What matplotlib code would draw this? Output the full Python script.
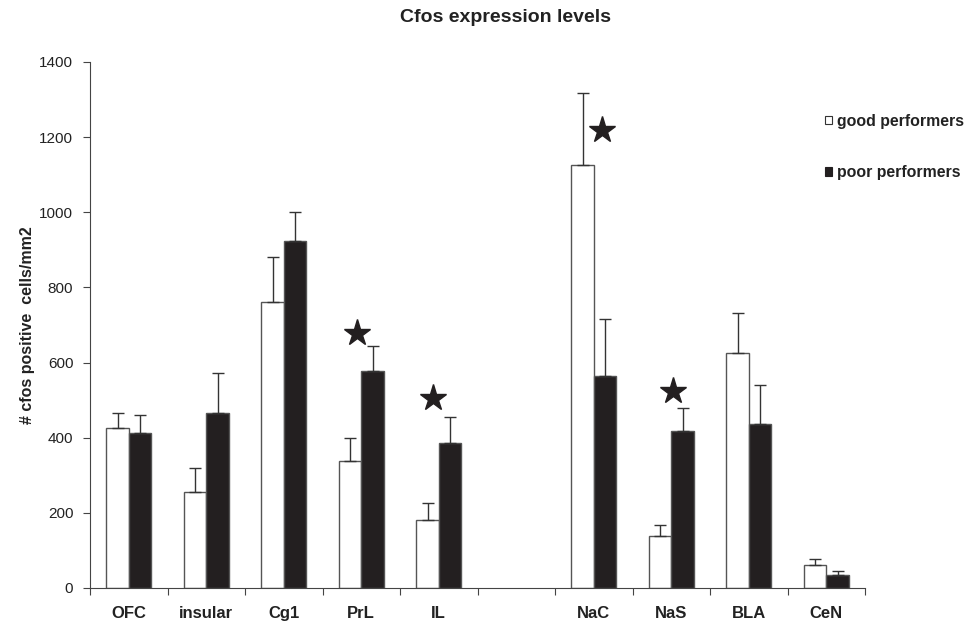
import numpy as np
import matplotlib.pyplot as plt
from matplotlib.patches import Patch

plt.rcParams['font.family'] = ['Liberation Sans', 'DejaVu Sans']

regions = ["OFC", "insular", "Cg1", "PrL", "IL", "", "NaC", "NaS", "BLA", "CeN"]
good = [426, 255, 761, 339, 180, np.nan, 1126, 139, 625, 61]
good_err = [40, 65, 120, 61, 45, np.nan, 192, 29, 107, 15]
poor = [413, 466, 924, 578, 387, np.nan, 564, 419, 437, 35]
poor_err = [47, 106, 76, 66, 67, np.nan, 152, 61, 103, 11]

# significance stars: region, height, x shift
star_regions = ["PrL", "IL", "NaC", "NaS"]
star_heights = [679, 506, 1219, 525]
star_shift = [-0.05, -0.08, 0.1, 0.02]

fig = plt.figure(figsize=(9.66, 6.23), dpi=100)
ax = fig.add_axes([0.0932, 0.0562, 0.8023, 0.8443])

x = np.arange(len(regions))
w = 0.29
ok = ~np.isnan(np.array(good))

ax.bar(x[ok] - w/2, np.array(good)[ok], w, color='white', edgecolor='#555555', linewidth=1, zorder=2)
ax.bar(x[ok] + w/2, np.array(poor)[ok], w, color='#231f20', edgecolor='#555555', linewidth=1, zorder=2)

ax.errorbar(x[ok] - w/2, np.array(good)[ok], yerr=[np.zeros(ok.sum()), np.array(good_err)[ok]],
            fmt='none', ecolor='#333333', elinewidth=1, capsize=4, capthick=1, zorder=3)
ax.errorbar(x[ok] + w/2, np.array(poor)[ok], yerr=[np.zeros(ok.sum()), np.array(poor_err)[ok]],
            fmt='none', ecolor='#333333', elinewidth=1, capsize=4, capthick=1, zorder=3)

for r, h, s in zip(star_regions, star_heights, star_shift):
    ax.plot(regions.index(r) + s, h, marker='*', markersize=20, color='#231f20', zorder=4)

ax.set_xlim(-0.5, len(regions) - 0.5)
ax.set_ylim(0, 1400)
ax.set_yticks(range(0, 1401, 200))
ax.set_xticks(np.arange(-0.5, len(regions), 1))
ax.set_xticklabels([])
ax.set_xticks(x, minor=True)
ax.set_xticklabels(regions, minor=True, fontweight='bold', fontsize=12, color='#222222')
ax.tick_params(axis='x', which='minor', length=0, pad=13)
ax.tick_params(axis='x', which='major', length=5, direction='out', color='#444444')
ax.tick_params(axis='y', length=5, direction='out', labelsize=11, pad=7, color='#444444',
               labelcolor='#222222')

for side in ['top', 'right']:
    ax.spines[side].set_visible(False)
for side in ['left', 'bottom']:
    ax.spines[side].set_color('#444444')

ax.set_ylabel('# cfos positive  cells/mm2', fontweight='bold', fontsize=11.5, labelpad=3,
              color='#222222')
fig.text(0.523, 0.972, 'Cfos expression levels', ha='center', va='center',
         fontweight='bold', fontsize=14, color='#222222')

handles = [Patch(facecolor='white', edgecolor='#333333', linewidth=0.8),
           Patch(facecolor='#231f20', edgecolor='#231f20', linewidth=0.8)]
leg = fig.legend(handles, ['good performers', 'poor performers'], loc='upper left',
                 bbox_to_anchor=(0.846, 0.83), frameon=False, handlelength=0.45, handleheight=0.45,
                 handletextpad=0.3, labelspacing=2.3, borderpad=0,
                 prop={'weight': 'bold', 'size': 11.4})
for t in leg.get_texts():
    t.set_color('#222222')

fig.savefig('out.png', dpi=100)
